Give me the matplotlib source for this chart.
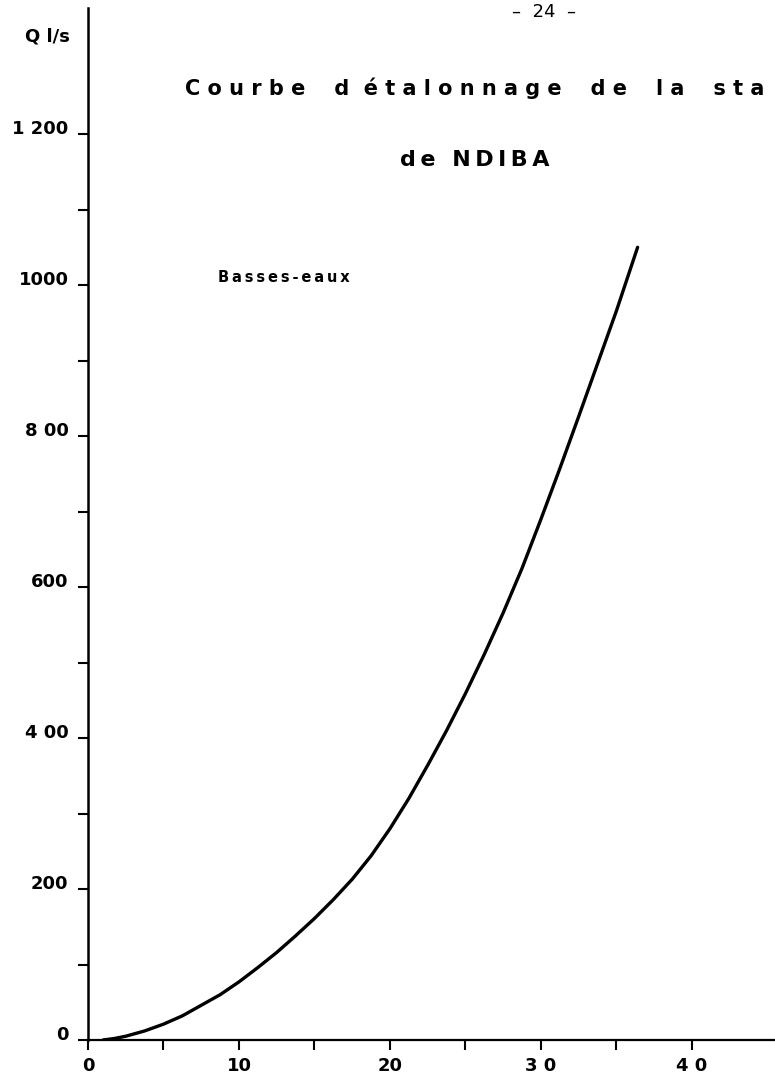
import numpy as np
import matplotlib.pyplot as plt

# hauteur (cm) / debit (l/s)
hauteur = [1.0, 1.75, 2.5, 3.75, 5.0, 6.25, 7.5, 8.75, 10.0, 11.25, 12.5, 13.75, 15.0, 16.25, 17.5,
           18.75, 20.0, 21.25, 22.5, 23.75, 25.0, 26.25, 27.5, 28.75, 30.0, 31.25, 32.5, 33.75, 35.0, 36.4]
debit = [0, 2, 5, 12, 21, 32, 46, 60, 77, 96, 116, 138, 161, 186, 213,
         244, 280, 320, 364, 410, 459, 511, 566, 625, 690, 757, 826, 896, 966, 1050]

x_ticks = [0, 10, 20, 30, 40]
x_labels = ["0", "10", "20", "3 0", "4 0"]
x_minor = [5, 15, 25, 35]
y_ticks = [0, 200, 400, 600, 800, 1000, 1200]
y_labels = ["0", "200", "4 00", "600", "8 00", "1000", "1 200"]
y_minor = [100, 300, 500, 700, 900, 1100]

TS = "\u2009"  # espace fine


def espace(txt, lettre=TS, mot=TS + " " + TS):
    # lettres espacees comme sur l'original
    return mot.join(lettre.join(m) for m in txt.split(" "))


W, H = 775, 1086
fig = plt.figure(figsize=(W / 100, H / 100), dpi=100)
ax = fig.add_axes([88 / W, 46 / H, 687 / W, 1032 / H])

ax.plot(hauteur, debit, color="black", lw=2.4, solid_capstyle="round", solid_joinstyle="round")

ax.set_xlim(0, 45.5)
ax.set_ylim(0, 1367)

for s in ["top", "right"]:
    ax.spines[s].set_visible(False)
ax.spines["left"].set_linewidth(1.8)
ax.spines["bottom"].set_linewidth(1.6)

ax.set_xticks(x_ticks)
ax.set_xticklabels(x_labels)
ax.set_xticks(x_minor, minor=True)
ax.set_yticks(y_ticks)
ax.set_yticklabels(y_labels)
ax.set_yticks(y_minor, minor=True)

ax.tick_params(which="both", direction="out", length=7, width=1.5, color="black")
ax.tick_params(axis="x", pad=5, labelsize=13)
ax.tick_params(axis="y", pad=7, labelsize=13)
for lab in ax.get_xticklabels() + ax.get_yticklabels():
    lab.set_fontweight("bold")
for lab in ax.get_yticklabels():
    lab.set_verticalalignment("baseline")

titre = "    ".join([espace("Courbe", " "), "d  " + espace("étalonnage", " "),
                     espace("de", " "), espace("la", " "), espace("sta", " ")])

fig.text(47 / W, 1 - 37 / H, "Q l/s", ha="center", va="center", fontsize=13, fontweight="bold")
fig.text(544 / W, 1 - 12 / H, "–  24  –", ha="center", va="center", fontsize=13)
fig.text(185 / W, 1 - 88 / H, titre, ha="left", va="center", fontsize=15, fontweight="bold")
fig.text(400 / W, 1 - 160 / H, espace("de NDIBA"), ha="left", va="center", fontsize=16, fontweight="bold")
fig.text(218 / W, 1 - 277 / H, espace("Basses-eaux"), ha="left", va="center", fontsize=10.5, fontweight="bold")

fig.savefig("out.png", dpi=100)
